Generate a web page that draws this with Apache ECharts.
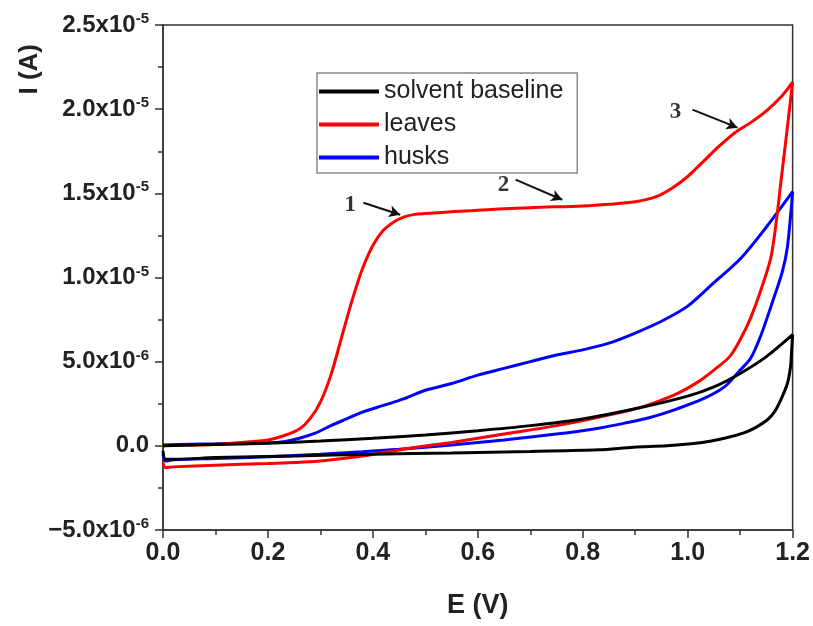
<!DOCTYPE html>
<html><head><meta charset="utf-8">
<script src="https://cdn.jsdelivr.net/npm/echarts@6/dist/echarts.min.js"></script>
<style>html,body{margin:0;padding:0;background:#fff}#c{width:813px;height:626px}</style>
</head><body><div id="c"></div>
<script>
// E (V), I (µA)
const baselineE = [0.00,0.10,0.20,0.30,0.40,0.50,0.60,0.70,0.80,0.90,1.00,1.05,1.10,1.15,1.20,
  1.198,1.196,1.19,1.177,1.165,1.152,1.13,1.107,1.07,1.024,0.96,0.897,0.83,0.70,0.55,0.40,0.25,0.10,0.02,0.005,0.0];
const baselineI = [0.0,0.08,0.15,0.28,0.45,0.65,0.9,1.2,1.6,2.2,2.95,3.5,4.3,5.3,6.6,
  5.6,4.7,3.7,2.7,2.0,1.55,1.1,0.77,0.45,0.18,0.0,-0.08,-0.24,-0.33,-0.42,-0.5,-0.6,-0.7,-0.8,-0.8,-0.3];
const leavesE = [0.00,0.05,0.10,0.15,0.20,0.23,0.26,0.28,0.30,0.32,0.34,0.36,0.38,0.40,0.42,0.44,0.46,0.48,0.50,0.55,0.60,0.70,0.80,0.85,0.90,0.94,0.97,1.00,1.03,1.06,1.09,1.12,1.15,1.18,1.20,
  1.18,1.16,1.14,1.12,1.10,1.08,1.05,1.02,0.98,0.94,0.90,0.83,0.75,0.65,0.55,0.48,0.42,0.38,0.33,0.28,0.20,0.10,0.02,0.005,0.0];
const leavesI = [0.0,0.05,0.1,0.2,0.35,0.6,1.0,1.6,2.6,4.2,6.4,8.6,10.5,11.9,12.8,13.3,13.6,13.75,13.8,13.9,14.0,14.15,14.25,14.35,14.5,14.8,15.3,16.0,16.9,17.8,18.6,19.2,19.9,20.8,21.6,
  16.3,11.4,9.3,7.6,6.3,5.3,4.5,3.8,3.1,2.6,2.2,1.7,1.2,0.7,0.2,-0.1,-0.4,-0.6,-0.8,-0.95,-1.05,-1.15,-1.25,-1.3,-1.0];
const husksE = [0.00,0.05,0.10,0.15,0.20,0.23,0.26,0.29,0.32,0.35,0.38,0.42,0.46,0.50,0.55,0.60,0.65,0.70,0.75,0.80,0.85,0.90,0.95,1.00,1.05,1.10,1.15,1.20,
  1.19,1.18,1.16,1.14,1.12,1.10,1.07,1.03,0.98,0.93,0.88,0.83,0.75,0.65,0.55,0.45,0.38,0.30,0.20,0.10,0.02,0.005,0.0];
const husksI = [0.05,0.1,0.12,0.15,0.18,0.25,0.45,0.75,1.2,1.6,2.0,2.4,2.8,3.3,3.7,4.2,4.6,5.0,5.4,5.7,6.1,6.7,7.4,8.3,9.7,11.1,13.0,15.1,
  11.8,10.3,8.4,6.6,5.2,4.5,3.5,2.8,2.2,1.7,1.35,1.05,0.7,0.35,0.05,-0.2,-0.35,-0.5,-0.65,-0.75,-0.83,-0.9,-0.5];
const seriesNames = ['solvent baseline','leaves','husks'];
const xTickLabels = ['0.0','0.2','0.4','0.6','0.8','1.0','1.2'];
const yTickMantissa = ['\u22125.0','0.0','5.0','1.0','1.5','2.0','2.5'];
const yTickExp = ['-6','','-6','-5','-5','-5','-5'];
const annotText = ['1','2','3'];
const annotPos = [[0.357,14.32],[0.649,15.51],[0.977,19.85]];
const arrowFrom = [[0.382,14.44],[0.672,15.81],[1.009,19.97]];
const arrowTo = [[0.452,13.73],[0.761,14.62],[1.095,18.90]];

const zip = (a,b)=>a.map((v,i)=>[v,b[i]]);
const colors = ['#000000','#ff0000','#0000ff'];
const datas = [zip(baselineE,baselineI), zip(leavesE,leavesI), zip(husksE,husksI)];

const chart = echarts.init(document.getElementById('c'));
const fontFam = '"Liberation Sans", Arial, sans-serif';
const series = seriesNames.map((n,i)=>({
  name:n, type:'line', data:datas[i], showSymbol:false, smooth:0.3,
  lineStyle:{color:colors[i], width:3}, itemStyle:{color:colors[i]}, z:3-i+2, animation:false
}));
series.push({
  name:'annot', type:'scatter', data:annotPos.map((p,i)=>({value:p, label:{formatter:annotText[i]}})),
  symbolSize:0, silent:true, animation:false,
  label:{show:true, position:'inside', fontFamily:'"Liberation Serif", "Times New Roman", serif', fontWeight:'bold', fontSize:23, color:'#000'},
  markLine:{silent:true, symbol:['none','arrow'], symbolSize:[9,11], animation:false,
    lineStyle:{color:'#111', width:2, type:'solid'}, label:{show:false},
    data:arrowFrom.map((f,i)=>[{coord:f},{coord:arrowTo[i]}])}
});
chart.setOption({
  animation:false,
  grid:{left:163, right:20, top:25, bottom:96, show:true, borderColor:'#333', borderWidth:1.5},
  legend:{data:seriesNames.map(n=>({name:n, icon:'rect'})), orient:'vertical', left:317, top:73, padding:[6,14,3,2], itemGap:8,
    itemWidth:60, itemHeight:4, borderColor:'#888', borderWidth:1.5, backgroundColor:'#fff',
    textStyle:{fontFamily:fontFam, fontSize:25, color:'#222', padding:[0,0,0,0], lineHeight:25}},
  xAxis:{type:'value', min:0, max:1.2, interval:0.2,
    name:'E (V)', nameLocation:'middle', nameGap:62,
    nameTextStyle:{fontFamily:fontFam, fontSize:27, fontWeight:'bold', color:'#222'},
    axisLine:{onZero:false, lineStyle:{color:'#333', width:1.5}},
    axisTick:{show:true, inside:false, length:8, lineStyle:{color:'#333', width:1.5}},
    minorTick:{show:true, splitNumber:2, length:5, lineStyle:{color:'#333', width:1.5}},
    splitLine:{show:false},
    axisLabel:{margin:11, fontFamily:fontFam, fontSize:25, fontWeight:'bold', color:'#222',
      formatter:(v)=>{const k=Math.round(v/0.2); return xTickLabels[k]??'';}}},
  yAxis:{type:'value', min:-5, max:25, interval:5,
    axisLine:{show:true, onZero:false, lineStyle:{color:'#333', width:1.5}},
    axisTick:{show:true, inside:false, length:8, lineStyle:{color:'#333', width:1.5}},
    minorTick:{show:true, splitNumber:2, length:5, lineStyle:{color:'#333', width:1.5}},
    splitLine:{show:false},
    axisLabel:{margin:14, fontFamily:fontFam, fontSize:24, fontWeight:'bold', color:'#222',
      formatter:(v)=>{const k=Math.round((v+5)/5); const m=yTickMantissa[k]; const e=yTickExp[k];
        return e ? (m + 'x10{s|' + e + '}') : m;},
      rich:{s:{fontFamily:fontFam, fontSize:15, fontWeight:'bold', color:'#222', verticalAlign:'top', padding:[0,0,12,0]}}}},
  graphic:[{type:'text', left:17, top:44, rotation:Math.PI/2,
    style:{text:'I (A)', fontFamily:fontFam, fontSize:26, fontWeight:'bold', fill:'#222'}}],
  series
});
</script></body></html>
